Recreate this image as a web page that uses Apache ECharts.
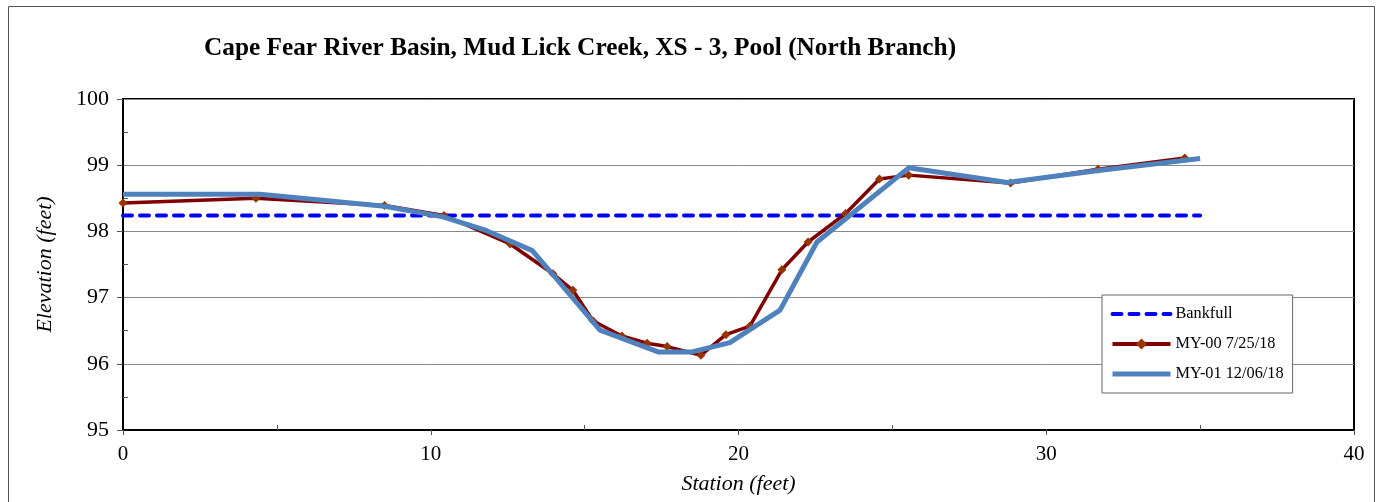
<!DOCTYPE html>
<html>
<head>
<meta charset="utf-8">
<script src="https://cdn.jsdelivr.net/npm/echarts@6/dist/echarts.min.js"></script>
<style>
  html, body { margin: 0; padding: 0; background: #fff; }
  #chart { width: 1383px; height: 502px; }
</style>
</head>
<body>
<div id="chart"></div>
<script>
// survey data
var bankfullStation = [0, 35]
var bankfullElev = [98.24, 98.24]

var station00 = [0, 4.32, 8.5, 10.43, 12.58, 13.97, 14.62, 15.27, 16.21, 17.03, 17.68, 18.78, 19.59, 20.37, 21.41, 22.26, 23.48, 24.58, 25.53, 28.84, 31.68, 34.5]
var elev00 = [98.43, 98.5, 98.39, 98.24, 97.81, 97.36, 97.11, 96.65, 96.42, 96.31, 96.26, 96.13, 96.44, 96.57, 97.42, 97.84, 98.27, 98.79, 98.85, 98.73, 98.94, 99.11]

var station01 = [0, 4.45, 8.5, 10.4, 11.82, 13.3, 14.0, 15.5, 17.39, 18.49, 19.72, 21.35, 22.55, 25.53, 28.73, 31.7, 35.0]
var elev01 = [98.56, 98.56, 98.38, 98.22, 98.01, 97.71, 97.33, 96.51, 96.18, 96.18, 96.32, 96.81, 97.84, 98.96, 98.74, 98.92, 99.1]

function pairs(xs, ys) {
    return xs.map(function (x, i) { return [x, ys[i]] })
}

var serif = '"Liberation Serif", "Times New Roman", serif'
var chart = echarts.init(document.getElementById('chart'))

var option = {
    animation: false,
    title: {
        text: 'Cape Fear River Basin, Mud Lick Creek, XS - 3, Pool (North Branch)',
        left: 199,
        top: 31,
        textStyle: { fontFamily: serif, fontSize: 25.3, fontWeight: 'bold', color: '#000' }
    },
    graphic: [{
        type: 'rect',
        shape: { x: 8.5, y: 6.5, width: 1366, height: 500 },
        style: { fill: 'none', stroke: '#555', lineWidth: 1 },
        silent: true
    }],
    grid: {
        left: 123, right: 29, top: 99, bottom: 72,
        show: true, borderColor: '#000', borderWidth: 2
    },
    legend: {
        orient: 'vertical',
        left: 1102,
        top: 295,
        padding: [11, 9, 11, 8],
        itemGap: 14,
        itemWidth: 58,
        itemHeight: 14,
        borderColor: '#666',
        borderWidth: 1,
        backgroundColor: '#fff',
        textStyle: { fontFamily: serif, fontSize: 16.3, color: '#000' },
        data: [
            { name: 'Bankfull', itemStyle: { opacity: 0 }, lineStyle: { width: 4 } },
            { name: 'MY-00 7/25/18', lineStyle: { width: 4 } },
            { name: 'MY-01 12/06/18', itemStyle: { opacity: 0 }, lineStyle: { width: 5 } }
        ]
    },
    xAxis: {
        type: 'value',
        min: 0, max: 40, interval: 10,
        name: 'Station (feet)',
        nameLocation: 'middle',
        nameGap: 43,
        nameTextStyle: { fontFamily: serif, fontSize: 22, fontStyle: 'italic', color: '#000' },
        axisLine: { lineStyle: { color: '#000', width: 2 } },
        axisTick: { length: 5, lineStyle: { color: '#555' } },
        minorTick: { show: true, splitNumber: 2, length: -5, lineStyle: { color: '#555' } },
        axisLabel: { fontFamily: serif, fontSize: 21, color: '#000', margin: 14 },
        splitLine: { show: false }
    },
    yAxis: {
        type: 'value',
        min: 95, max: 100, interval: 1,
        name: 'Elevation (feet)',
        nameLocation: 'middle',
        nameGap: 67,
        nameTextStyle: { fontFamily: serif, fontSize: 22, fontStyle: 'italic', color: '#000' },
        axisLine: { lineStyle: { color: '#000', width: 2 } },
        axisTick: { length: 6, lineStyle: { color: '#555' } },
        minorTick: { show: true, splitNumber: 2, length: -5, lineStyle: { color: '#555' } },
        axisLabel: { fontFamily: serif, fontSize: 22, color: '#000', margin: 14 },
        splitLine: { lineStyle: { color: '#888', width: 1 } }
    },
    series: [
        {
            name: 'Bankfull',
            type: 'line',
            data: pairs(bankfullStation, bankfullElev),
            symbol: 'none',
            itemStyle: { color: '#0000ff' },
            lineStyle: { color: '#0000ff', width: 4, type: [9, 8], cap: 'round' },
            z: 2
        },
        {
            name: 'MY-00 7/25/18',
            type: 'line',
            data: pairs(station00, elev00),
            symbol: 'diamond',
            symbolSize: 9,
            itemStyle: { color: '#993300' },
            lineStyle: { color: '#800000', width: 3.5 },
            z: 3
        },
        {
            name: 'MY-01 12/06/18',
            type: 'line',
            data: pairs(station01, elev01),
            symbol: 'none',
            itemStyle: { color: '#4f81bd' },
            lineStyle: { color: '#4f81bd', width: 5 },
            z: 4
        }
    ]
}

chart.setOption(option)
</script>
</body>
</html>
